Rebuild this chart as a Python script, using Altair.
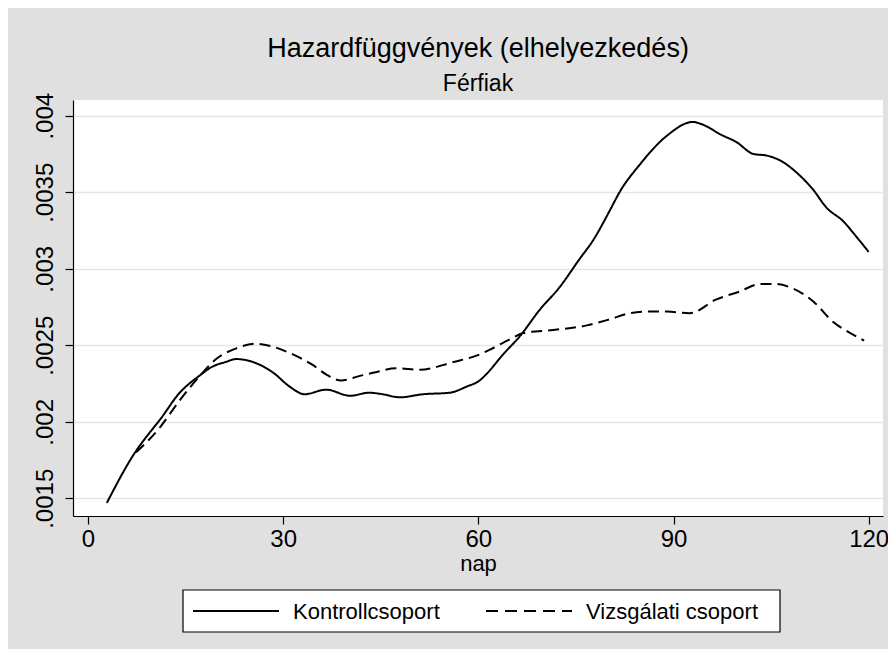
import altair as alt
import pandas as pd

# Kontrollcsoport (solid line)
days_control = [2.9, 7.4, 9.5, 11.0, 14.1, 17.1, 19.1, 21.1, 22.8, 25.4, 28.5, 31.0, 33.3,
                36.6, 40.3, 43.2, 45.3, 47.9, 51.5, 55.6, 58.2, 60.2, 61.2, 63.8, 66.4,
                69.4, 72.5, 75.5, 77.7, 80.2, 81.7, 84.8, 89.0, 93.0, 94.0, 97.6, 99.6,
                102.3, 104.3, 106.3, 109.4, 111.4, 113.5, 116.1, 118.1, 120.0]
haz_control = [0.00147, 0.00181, 0.00193, 0.00201, 0.00219, 0.00230, 0.00236, 0.00239, 0.00241,
               0.00239, 0.00232, 0.00223, 0.00218, 0.00221, 0.00217, 0.00219, 0.00218, 0.00216,
               0.00218, 0.00219, 0.00223, 0.00227, 0.00231, 0.00244, 0.00256, 0.00273, 0.00288,
               0.00306, 0.00319, 0.00338, 0.00350, 0.00368, 0.00387, 0.00396, 0.00395, 0.00387,
               0.00383, 0.00375, 0.00374, 0.00371, 0.00361, 0.00352, 0.00340, 0.00331, 0.00321,
               0.00311]

# Vizsgálati csoport (dashed line)
days_test = [7.4, 11.0, 14.1, 17.2, 19.7, 22.8, 25.9, 28.5, 31.5, 34.6, 36.6, 38.9, 41.8,
             43.8, 47.4, 51.0, 56.1, 60.2, 61.7, 64.9, 66.9, 71.5, 76.7, 80.2, 83.3, 86.3,
             89.0, 92.5, 96.6, 100.1, 103.3, 105.8, 108.4, 111.4, 114.6, 117.6, 119.3]
haz_test = [0.00180, 0.00196, 0.00214, 0.00230, 0.00241, 0.00248, 0.00251, 0.00249, 0.00244,
            0.00237, 0.00231, 0.00227, 0.00230, 0.00232, 0.00235, 0.00234, 0.00239, 0.00244,
            0.00247, 0.00254, 0.00258, 0.00260, 0.00263, 0.00267, 0.00271, 0.00272, 0.00272,
            0.00271, 0.00280, 0.00285, 0.00290, 0.00290, 0.00287, 0.00279, 0.00265, 0.00257,
            0.00253]

groups = ["Kontrollcsoport", "Vizsgálati csoport"]
dashes = [[1, 0], [11, 6]]
x_ticks = [0, 30, 60, 90, 120]
y_ticks = [0.0015, 0.002, 0.0025, 0.003, 0.0035, 0.004]

df = pd.concat([
    pd.DataFrame({"nap": days_control, "hazard": haz_control, "csoport": groups[0]}),
    pd.DataFrame({"nap": days_test, "hazard": haz_test, "csoport": groups[1]}),
], ignore_index=True)

FONT = "Liberation Sans"

lines = alt.Chart(df).mark_line(
    interpolate="monotone", strokeWidth=2, color="black", clip=True
).encode(
    x=alt.X("nap:Q",
            scale=alt.Scale(domain=[-2.3, 122.2], nice=False, zero=False),
            axis=alt.Axis(values=x_ticks, title="nap", grid=False, format="d",
                          labelFontSize=24, labelPadding=3, tickSize=8,
                          titleFontSize=22, titleFontWeight="normal",
                          titleBaseline="alphabetic", titleY=54)),
    y=alt.Y("hazard:Q",
            scale=alt.Scale(domain=[0.0013843, 0.004103], nice=False, zero=False),
            axis=alt.Axis(values=y_ticks, title=None, grid=True,
                          labelExpr="substring(format(datum.value, '.4~f'), 1)",
                          labelAngle=270, labelAlign="center", labelBaseline="alphabetic",
                          labelFontSize=24, labelPadding=13, tickSize=8)),
    strokeDash=alt.StrokeDash("csoport:N",
                              scale=alt.Scale(domain=groups, range=dashes),
                              legend=None),
)

# manual legend (box, key lines and labels), placed in pixels below the plot
legend_box = alt.Chart(pd.DataFrame({"k": [0]})).mark_rect(
    fill="white", stroke="black", strokeWidth=1.2
).encode(x=alt.value(110), x2=alt.value(707), y=alt.value(490), y2=alt.value(532))

key_x = [(120, 206, 220), (413, 499, 513)]
key_dash = [[1, 0], [12, 7]]
legend_layers = []
for g, d, (xs, xe, xt) in zip(groups, key_dash, key_x):
    row = pd.DataFrame({"csoport": [g]})
    legend_layers.append(
        alt.Chart(row).mark_rule(color="black", strokeWidth=2, strokeDash=d)
        .encode(x=alt.value(xs), x2=alt.value(xe), y=alt.value(511))
    )
    legend_layers.append(
        alt.Chart(row).mark_text(font=FONT, fontSize=22, color="black",
                                 align="left", baseline="middle")
        .encode(text="csoport:N", x=alt.value(xt), y=alt.value(512))
    )

chart = alt.layer(lines, legend_box, *legend_layers).properties(
    width=810, height=416,
    autosize=alt.AutoSizeParams(type="none"),
    padding={"left": 65, "top": 92, "right": 5, "bottom": 133},
    background="#e0e0e0",
    title=alt.TitleParams(text="Hazardfüggvények (elhelyezkedés)", subtitle="Férfiak",
                          font=FONT, subtitleFont=FONT, fontSize=27, subtitleFontSize=23,
                          fontWeight="normal", color="black", subtitleColor="black",
                          anchor="middle", frame="group", offset=-5, subtitlePadding=10),
).configure_view(
    fill="white", strokeWidth=0
).configure_axis(
    labelFont=FONT, titleFont=FONT, labelColor="black", titleColor="black",
    domainColor="black", domainWidth=1.2, tickColor="black", tickWidth=1.2,
    gridColor="#e6e6e6", gridWidth=1.5
)

chart.save("out.html", embed_options={"renderer": "svg", "actions": False})
